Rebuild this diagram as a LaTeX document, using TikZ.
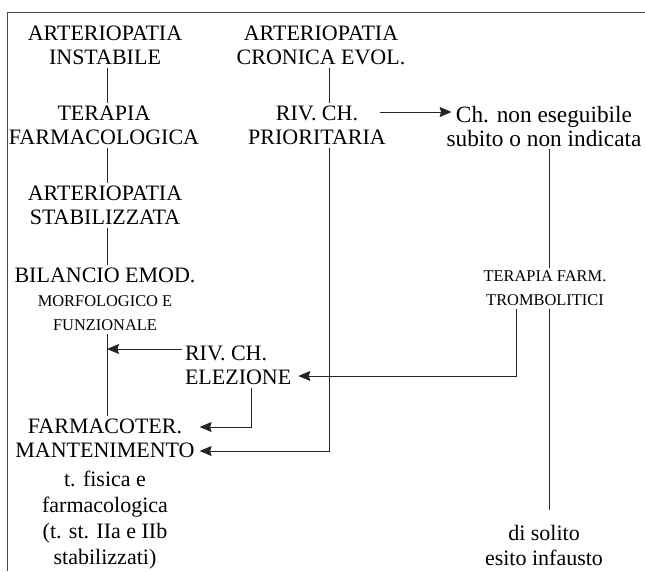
\documentclass[tikz,border=0pt]{standalone}
\usepackage{fontspec}
\setmainfont{Liberation Serif}
\usetikzlibrary{arrows.meta,calc}

\tikzset{
  big/.style={font=\fontsize{22}{24}\selectfont},
  small/.style={font=\fontsize{16.4}{24}\selectfont},
  txt/.style={inner sep=0pt, outer sep=3pt, align=center, anchor=north, text=black},
  link/.style={draw=black!85, line width=0.9pt},
  arr/.style={link, -{Stealth[length=12pt,width=10pt,inset=1.5pt]}},
}

\begin{document}
\begin{tikzpicture}[x=1pt,y=-1pt]
\useasboundingbox (0,0) rectangle (645,571);

% frame
\draw[black!70, line width=1pt] (645,12) -- (7,12) -- (7,571);

% left column
\node[txt,big] (ai) at (105,23) {ARTERIOPATIA\\INSTABILE};
\node[txt,big] (tf) at (104,103) {TERAPIA\\FARMACOLOGICA};
\node[txt,big] (as) at (105,183) {ARTERIOPATIA\\STABILIZZATA};
\node[txt,big] (be) at (105,265) {BILANCIO EMOD.};
\node[txt,small] (mf) at (105,293) {MORFOLOGICO E\\FUNZIONALE};
\node[txt,big] (fm) at (105,416) {FARMACOTER.\\MANTENIMENTO};
\node[txt,font=\fontsize{22}{26}\selectfont] (tfe) at (105,468)
  {t. fisica e\\farmacologica\\(t. st. IIa e IIb\\stabilizzati)};

% middle column
\node[txt,big] (ace) at (321,23) {ARTERIOPATIA\\CRONICA EVOL.};
\node[txt,big] (rp) at (317,103) {RIV. CH.\\PRIORITARIA};
\node[txt,big,align=left,anchor=north west] (re) at (182,343) {RIV. CH.\\ELEZIONE};

% right column
\node[txt,font=\fontsize{23.3}{24}\selectfont] (ch) at (544,103) {Ch. non eseguibile\\subito o non indicata};
\node[txt,small] (tt) at (545,268) {TERAPIA FARM.\\TROMBOLITICI};
\node[txt,font=\fontsize{22}{25}\selectfont] (ds) at (544,522) {di solito\\esito infausto};

% rows and columns of the connectors
\coordinate (c1) at (107,0);
\coordinate (c2) at (329,0);
\coordinate (c3) at (549,0);
\coordinate (c4) at (516,0);
\coordinate (c5) at (251,0);
\coordinate (rTop) at (0,112);
\coordinate (rRiv) at (107,349);
\coordinate (rEle) at (0,376);
\coordinate (rFar) at (0,427);
\coordinate (rMan) at (0,451);

% left column links
\draw[link] (ai.south -| c1) -- (tf.north -| c1);
\draw[link] (tf.south -| c1) -- (as.north -| c1);
\draw[link] (as.south -| c1) -- (be.north -| c1);
\draw[link] (mf.south -| c1) -- (fm.north -| c1);
\draw[arr] (re.west |- rRiv) -- (rRiv);

% middle column links
\draw[link] (ace.south -| c2) -- (rp.north -| c2);
\draw[arr] ($(rp.east |- rTop)+(-9,0)$) -- ($(ch.west |- rTop)+(8,0)$);
\draw[arr] (rp.south -| c2) |- ($(fm.east |- rMan)+(2,0)$);
\draw[arr] (re.south -| c5) |- ($(fm.east |- rFar)+(2,0)$);

% right column links
\draw[link] (ch.south -| c3) -- (tt.north -| c3);
\draw[link,shorten >=12pt] (tt.south -| c3) -- (ds.north -| c3);
\draw[arr] (tt.south -| c4) |- ($(re.east |- rEle)+(4,0)$);
\end{tikzpicture}
\end{document}
